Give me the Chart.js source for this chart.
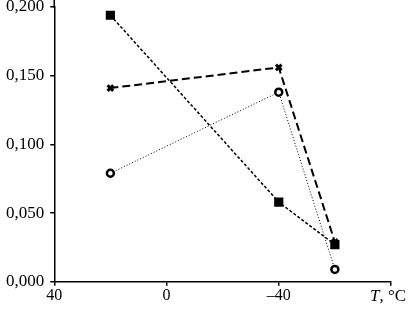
<!DOCTYPE html>
<html>
<head>
<meta charset="utf-8">
<script src="https://cdn.jsdelivr.net/npm/chart.js@4"></script>
<style>
  html, body { margin: 0; padding: 0; background: #fff; }
</style>
</head>
<body>
<canvas id="myChart" width="416" height="313"></canvas>
<script>
// temperatures, °C
var temps = [20, -40, -60];
var squares = [0.194, 0.058, 0.027];
var crosses = [0.141, 0.156, 0.029];
var circles = [0.079, 0.138, 0.009];
var xTicks = [40, 0, -40, -80];
var yTicks = [0, 0.05, 0.1, 0.15, 0.2];

function pts(vals) {
    return temps.map(function (t, i) { return { x: t, y: vals[i] }; });
}

var serif = "'Liberation Serif', 'DejaVu Serif', serif";

// draws "T, °C" at the right end of the x axis (T in italic)
// and lets the y axis line run on to the top edge
var axisName = {
    id: 'axisName',
    afterDraw: function (chart) {
        var ctx = chart.ctx;
        var xs = chart.scales.x;
        var area = chart.chartArea;
        ctx.save();
        ctx.strokeStyle = '#000';
        ctx.lineWidth = 1.5;
        ctx.beginPath();
        ctx.moveTo(area.left, 0);
        ctx.lineTo(area.left, area.top + 1);
        ctx.stroke();

        var cx = xs.getPixelForValue(-80) - 3;
        var y = xs.top + 4 + 15;
        ctx.fillStyle = '#000';
        ctx.textBaseline = 'alphabetic';
        ctx.font = 'italic 17px ' + serif;
        var w1 = ctx.measureText('T').width;
        ctx.font = '17px ' + serif;
        var w2 = ctx.measureText(', \u00B0C').width;
        var x0 = cx - (w1 + w2) / 2;
        ctx.font = 'italic 17px ' + serif;
        ctx.fillText('T', x0, y);
        ctx.font = '17px ' + serif;
        ctx.fillText(', \u00B0C', x0 + w1, y);
        ctx.restore();
    }
};

var myChart = new Chart(document.getElementById('myChart'), {
    type: 'line',
    data: {
        datasets: [{
            data: pts(squares),
            borderColor: '#000',
            backgroundColor: '#000',
            borderWidth: 1.5,
            borderDash: [3, 2],
            pointStyle: 'rect',
            pointRadius: 6.5,
            pointBorderWidth: 0
        }, {
            data: pts(crosses),
            borderColor: '#000',
            backgroundColor: '#000',
            borderWidth: 2,
            borderDash: [8, 4],
            pointStyle: 'crossRot',
            pointRadius: 4,
            pointBorderWidth: 3
        }, {
            data: pts(circles),
            borderColor: '#000',
            backgroundColor: '#fff',
            borderWidth: 1,
            borderDash: [1, 2],
            pointStyle: 'circle',
            pointRadius: 3.5,
            pointBorderWidth: 2.5
        }]
    },
    options: {
        responsive: false,
        animation: false,
        layout: {
            padding: { left: 0, right: 25, top: 0, bottom: 8 }
        },
        plugins: {
            legend: { display: false },
            tooltip: { enabled: false }
        },
        scales: {
            x: {
                type: 'linear',
                reverse: true,
                min: -80,
                max: 40,
                afterBuildTicks: function (s) {
                    s.ticks = xTicks.map(function (v) { return { value: v }; });
                },
                border: { color: '#000', width: 1.5 },
                grid: { drawOnChartArea: false, color: '#000', tickLength: 4, lineWidth: 1.5 },
                ticks: {
                    color: '#000',
                    padding: 0,
                    maxRotation: 0,
                    font: { family: serif, size: 16 },
                    callback: function (v) {
                        if (v === -80) return '';
                        return v < 0 ? '\u2013' + Math.abs(v) : String(v);
                    }
                }
            },
            y: {
                min: 0,
                max: 0.2,
                afterBuildTicks: function (s) {
                    s.ticks = yTicks.map(function (v) { return { value: v }; });
                },
                afterFit: function (s) {
                    s.paddingTop = 0;
                },
                border: { color: '#000', width: 1.5 },
                grid: { drawOnChartArea: false, color: '#000', tickLength: 4, lineWidth: 1.5 },
                ticks: {
                    color: '#000',
                    padding: 6,
                    font: { family: serif, size: 17 },
                    callback: function (v) {
                        return v.toFixed(3).replace('.', ',');
                    }
                }
            }
        }
    },
    plugins: [axisName]
});
</script>
</body>
</html>
